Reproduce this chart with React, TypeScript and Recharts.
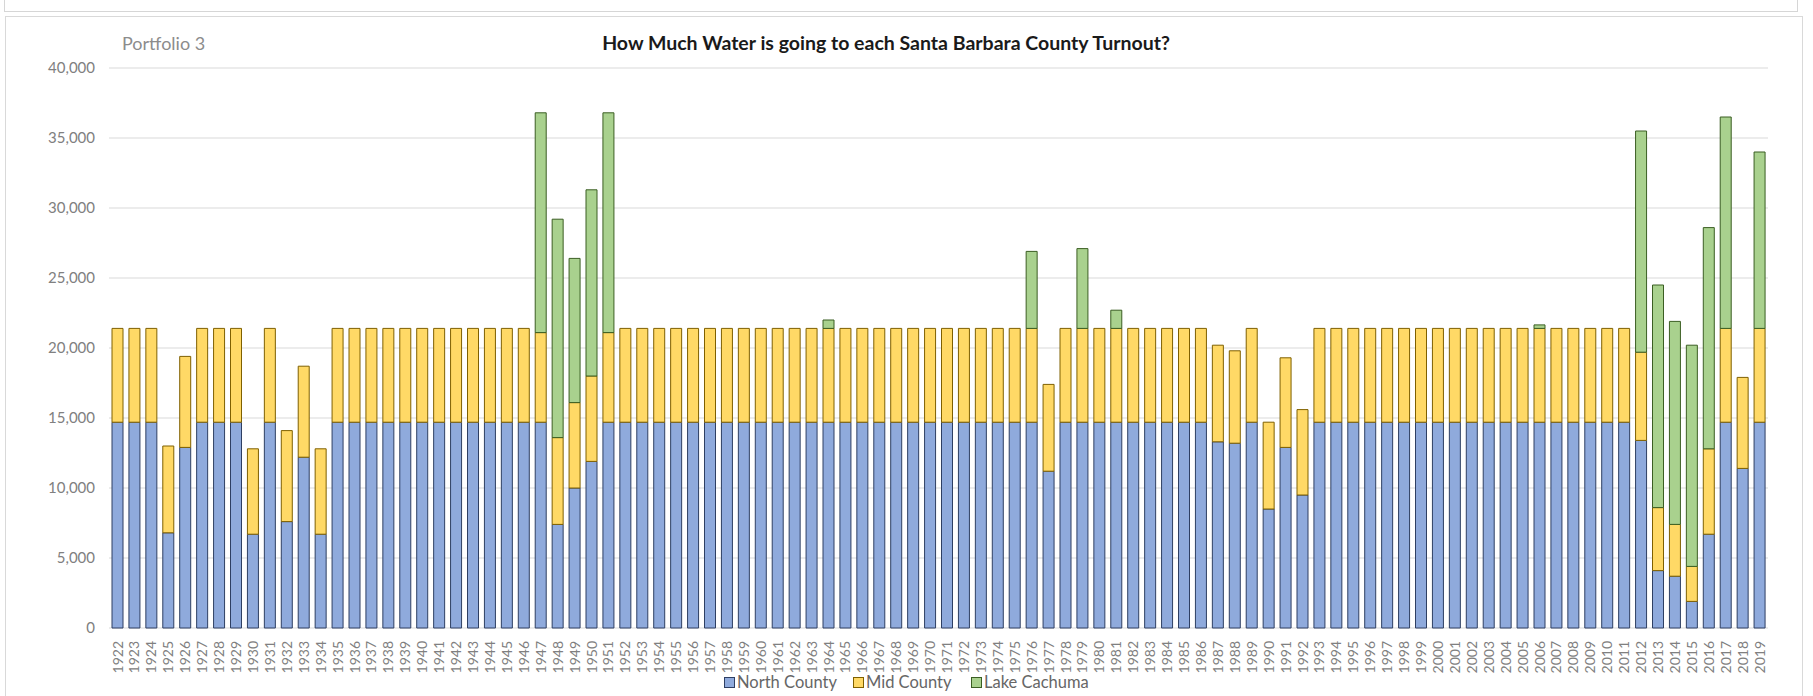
import React from 'react';
import { BarChart, Bar, XAxis, YAxis, CartesianGrid } from 'recharts';

const years = [
  '1922','1923','1924','1925','1926','1927','1928','1929','1930','1931',
  '1932','1933','1934','1935','1936','1937','1938','1939','1940','1941',
  '1942','1943','1944','1945','1946','1947','1948','1949','1950','1951',
  '1952','1953','1954','1955','1956','1957','1958','1959','1960','1961',
  '1962','1963','1964','1965','1966','1967','1968','1969','1970','1971',
  '1972','1973','1974','1975','1976','1977','1978','1979','1980','1981',
  '1982','1983','1984','1985','1986','1987','1988','1989','1990','1991',
  '1992','1993','1994','1995','1996','1997','1998','1999','2000','2001',
  '2002','2003','2004','2005','2006','2007','2008','2009','2010','2011',
  '2012','2013','2014','2015','2016','2017','2018','2019',
];

const northCounty = [
  14700, 14700, 14700, 6800, 12900, 14700, 14700, 14700, 6700, 14700,
  7600, 12200, 6700, 14700, 14700, 14700, 14700, 14700, 14700, 14700,
  14700, 14700, 14700, 14700, 14700, 14700, 7400, 10000, 11900, 14700,
  14700, 14700, 14700, 14700, 14700, 14700, 14700, 14700, 14700, 14700,
  14700, 14700, 14700, 14700, 14700, 14700, 14700, 14700, 14700, 14700,
  14700, 14700, 14700, 14700, 14700, 11200, 14700, 14700, 14700, 14700,
  14700, 14700, 14700, 14700, 14700, 13300, 13200, 14700, 8500, 12900,
  9500, 14700, 14700, 14700, 14700, 14700, 14700, 14700, 14700, 14700,
  14700, 14700, 14700, 14700, 14700, 14700, 14700, 14700, 14700, 14700,
  13400, 4100, 3700, 1900, 6700, 14700, 11400, 14700,
];

const midCounty = [
  6700, 6700, 6700, 6200, 6500, 6700, 6700, 6700, 6100, 6700,
  6500, 6500, 6100, 6700, 6700, 6700, 6700, 6700, 6700, 6700,
  6700, 6700, 6700, 6700, 6700, 6400, 6200, 6100, 6100, 6400,
  6700, 6700, 6700, 6700, 6700, 6700, 6700, 6700, 6700, 6700,
  6700, 6700, 6700, 6700, 6700, 6700, 6700, 6700, 6700, 6700,
  6700, 6700, 6700, 6700, 6700, 6200, 6700, 6700, 6700, 6700,
  6700, 6700, 6700, 6700, 6700, 6900, 6600, 6700, 6200, 6400,
  6100, 6700, 6700, 6700, 6700, 6700, 6700, 6700, 6700, 6700,
  6700, 6700, 6700, 6700, 6700, 6700, 6700, 6700, 6700, 6700,
  6300, 4500, 3700, 2500, 6100, 6700, 6500, 6700,
];

const lakeCachuma = [
  0, 0, 0, 0, 0, 0, 0, 0, 0, 0,
  0, 0, 0, 0, 0, 0, 0, 0, 0, 0,
  0, 0, 0, 0, 0, 15700, 15600, 10300, 13300, 15700,
  0, 0, 0, 0, 0, 0, 0, 0, 0, 0,
  0, 0, 600, 0, 0, 0, 0, 0, 0, 0,
  0, 0, 0, 0, 5500, 0, 0, 5700, 0, 1300,
  0, 0, 0, 0, 0, 0, 0, 0, 0, 0,
  0, 0, 0, 0, 0, 0, 0, 0, 0, 0,
  0, 0, 0, 0, 250, 0, 0, 0, 0, 0,
  15800, 15900, 14500, 15800, 15800, 15100, 0, 12600,
];

const yTicks = [0, 5000, 10000, 15000, 20000, 25000, 30000, 35000, 40000];

const seriesNames = ['North County', 'Mid County', 'Lake Cachuma'];
const seriesFills = ['#8FAADC', '#FFD966', '#A9D18E'];
const seriesStrokes = ['#2E3F63', '#7F6000', '#3B5E23'];

const chartTitle = 'How Much Water is going to each Santa Barbara County Turnout?';
const subtitle = 'Portfolio 3';

const data = years.map((y, i) => ({
  year: y,
  north: northCounty[i],
  mid: midCounty[i],
  lake: lakeCachuma[i],
}));

const FONT = 'Lato, "Open Sans", "Liberation Sans", sans-serif';

const XTick = (props: any) => {
  const { x, y, payload } = props;
  return (
    <g transform={`translate(${x},${y})`}>
      <text
        transform="rotate(-90)"
        x={0}
        y={0}
        dy="0.36em"
        textAnchor="end"
        fill="#808080"
        fontSize={14}
        fontFamily={FONT}
      >
        {payload.value}
      </text>
    </g>
  );
};

const legendPos = [
  { box: 724, text: 737 },
  { box: 853, text: 866 },
  { box: 971, text: 984 },
];

export default function App() {
  return (
    <div style={{ position: 'absolute', left: 0, top: 0, width: 1813, height: 696, background: '#fff', overflow: 'hidden', fontFamily: FONT }}>
      <div style={{ position: 'absolute', left: 4, top: -4, width: 1794, height: 16, border: '1px solid #d6d6d6', boxSizing: 'border-box' }} />
      <div style={{ position: 'absolute', left: 5, top: 16, width: 1798, height: 700, border: '1px solid #d9d9d9', boxSizing: 'border-box' }} />
      <div style={{ position: 'absolute', left: 122, top: 32, fontSize: 18, color: '#8c8c8c', lineHeight: '22px', whiteSpace: 'nowrap' }}>{subtitle}</div>
      <div style={{ position: 'absolute', left: 486, width: 800, top: 31, fontSize: 19.5, fontWeight: 700, color: '#1a1a1a', lineHeight: '24px', textAlign: 'center', whiteSpace: 'nowrap' }}>{chartTitle}</div>
      <div style={{ position: 'absolute', left: 0, top: 0 }}>
        <BarChart
          width={1813}
          height={696}
          data={data}
          margin={{ top: 68, right: 45, bottom: 0, left: 0 }}
          barSize={11}
        >
          <CartesianGrid vertical={false} stroke="#d9d9d9" />
          <XAxis
            dataKey="year"
            interval={0}
            height={68}
            tickLine={false}
            axisLine={false}
            tickSize={0}
            tickMargin={13}
            tick={<XTick />}
          />
          <YAxis
            width={109}
            domain={[0, 40000]}
            ticks={yTicks}
            tickLine={false}
            axisLine={false}
            tickSize={0}
            tickMargin={14}
            tickFormatter={(v: number) => v.toLocaleString('en-US')}
            tick={{ fill: '#808080', fontSize: 15, fontFamily: FONT }}
          />
          <Bar dataKey="north" name={seriesNames[0]} stackId="a" fill={seriesFills[0]} stroke={seriesStrokes[0]} strokeWidth={1} isAnimationActive={false} />
          <Bar dataKey="mid" name={seriesNames[1]} stackId="a" fill={seriesFills[1]} stroke={seriesStrokes[1]} strokeWidth={1} isAnimationActive={false} />
          <Bar dataKey="lake" name={seriesNames[2]} stackId="a" fill={seriesFills[2]} stroke={seriesStrokes[2]} strokeWidth={1} isAnimationActive={false} />
        </BarChart>
      </div>
      {seriesNames.map((n, i) => (
        <React.Fragment key={n}>
          <div style={{ position: 'absolute', left: legendPos[i].box, top: 677, width: 11, height: 11, background: seriesFills[i], border: `1px solid ${seriesStrokes[i]}`, boxSizing: 'border-box' }} />
          <div style={{ position: 'absolute', left: legendPos[i].text, top: 672, fontSize: 16.5, lineHeight: '20px', color: '#666', whiteSpace: 'nowrap' }}>{n}</div>
        </React.Fragment>
      ))}
    </div>
  );
}
